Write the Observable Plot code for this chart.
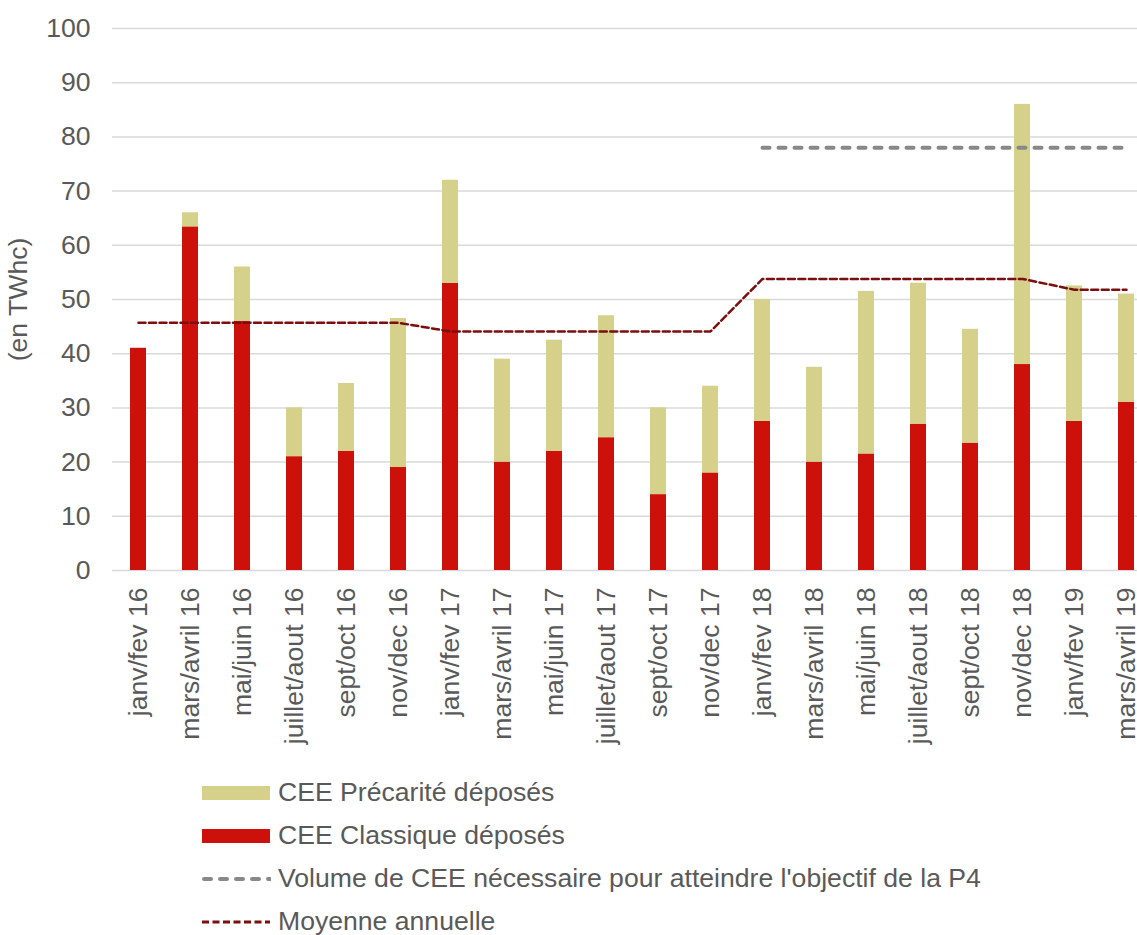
<!DOCTYPE html>
<html>
<head>
<meta charset="utf-8">
<script src="https://cdn.jsdelivr.net/npm/d3@7"></script>
<script src="https://cdn.jsdelivr.net/npm/@observablehq/plot@0.6"></script>
<style>
  html, body { margin: 0; padding: 0; background: #fff; }
  body { width: 1137px; height: 935px; overflow: hidden; font-family: "Liberation Sans", Arial, sans-serif; }
  #legend { margin-left: 201px; padding-top: 1px; color: #595959; font-size: 26.6px; }
  .row { display: flex; align-items: center; height: 43px; }
  .row svg { flex: none; margin-right: 7px; }
</style>
</head>
<body>
<div id="chart"></div>
<div id="legend"></div>
<script>
const categories = [
  "janv/fev 16", "mars/avril 16", "mai/juin 16", "juillet/aout 16", "sept/oct 16", "nov/dec 16",
  "janv/fev 17", "mars/avril 17", "mai/juin 17", "juillet/aout 17", "sept/oct 17", "nov/dec 17",
  "janv/fev 18", "mars/avril 18", "mai/juin 18", "juillet/aout 18", "sept/oct 18", "nov/dec 18",
  "janv/fev 19", "mars/avril 19"
];
const classique = [41, 63.4, 46, 21, 22, 19, 53, 20, 22, 24.5, 14, 18, 27.5, 20, 21.5, 27, 23.5, 38, 27.5, 31];
const precarite = [0, 2.6, 10, 9, 12.5, 27.5, 19, 19, 20.5, 22.5, 16, 16, 22.5, 17.5, 30, 26, 21, 48, 25, 20];
const moyenne = [45.7, 45.7, 45.7, 45.7, 45.7, 45.7, 44.1, 44.1, 44.1, 44.1, 44.1, 44.1,
                 53.8, 53.8, 53.8, 53.8, 53.8, 53.8, 51.8, 51.8];
const objectif = [null, null, null, null, null, null, null, null, null, null, null, null,
                  78, 78, 78, 78, 78, 78, 78, 78];
const yTicks = [0, 10, 20, 30, 40, 50, 60, 70, 80, 90, 100];

const seriesNames = ["CEE Classique déposés", "CEE Précarité déposés"];
const colors = ["#CC100A", "#D5D08A"];
const textColor = "#595959";
const fs = 26.6;

const rows = categories.flatMap((c, i) => [
  {cat: c, serie: seriesNames[0], value: classique[i]},
  {cat: c, serie: seriesNames[1], value: precarite[i]}
]);
const lineRows = categories.map((c, i) => ({cat: c, moyenne: moyenne[i], objectif: objectif[i]}));

const chart = Plot.plot({
  width: 1137,
  height: 770,
  marginLeft: 112,
  marginRight: -15,
  marginTop: 28,
  marginBottom: 200,
  style: {fontFamily: "'Liberation Sans', Arial, sans-serif", fontSize: fs + "px", color: textColor, background: "white", overflow: "hidden"},
  x: {domain: categories, paddingInner: 0.69, paddingOuter: 0.345, label: null},
  y: {domain: [0, 100], label: null},
  color: {domain: seriesNames, range: colors},
  marks: [
    Plot.ruleY(yTicks, {stroke: "#D9D9D9", strokeWidth: 1.5}),
    Plot.barY(rows, {x: "cat", y: "value", fill: "serie"}),
    Plot.line(lineRows, {x: "cat", y: "moyenne", stroke: "#7B0F0F", strokeWidth: 2.5, strokeDasharray: "7,3.5"}),
    Plot.line(lineRows, {x: "cat", y: "objectif", stroke: "#888888", strokeWidth: 4, strokeDasharray: "7,9", strokeLinecap: "round"}),
    Plot.axisY({ticks: yTicks, tickSize: 0, tickPadding: 22, fontSize: fs, fill: textColor, label: null}),
    Plot.axisX({tickSize: 0, tickRotate: -90, tickPadding: 17, fontSize: fs, fill: textColor, label: null}),
    Plot.text(["(en TWhc)"], {frameAnchor: "left", dx: -94, rotate: -90, fontSize: fs, fill: textColor, textAnchor: "middle"})
  ]
});
document.getElementById("chart").appendChild(chart);

// Legend
const legendItems = [
  {label: "CEE Précarité déposés", type: "rect", color: colors[1]},
  {label: "CEE Classique déposés", type: "rect", color: colors[0]},
  {label: "Volume de CEE nécessaire pour atteindre l'objectif de la P4", type: "line", color: "#888888", width: 4, dash: "7,9", cap: "round"},
  {label: "Moyenne annuelle", type: "line", color: "#7B0F0F", width: 3, dash: "7,3.5", cap: "butt"}
];
const legend = d3.select("#legend");
for (const it of legendItems) {
  const row = legend.append("div").attr("class", "row");
  const svg = row.append("svg").attr("width", 70).attr("height", 16);
  if (it.type === "rect") {
    svg.append("rect").attr("x", 1).attr("y", 1).attr("width", 68).attr("height", 14).attr("fill", it.color);
  } else {
    svg.append("line").attr("x1", it.cap === "round" ? 3 : 1).attr("x2", 69).attr("y1", 8).attr("y2", 8)
      .attr("stroke", it.color).attr("stroke-width", it.width).attr("stroke-dasharray", it.dash)
      .attr("stroke-linecap", it.cap);
  }
  row.append("span").text(it.label);
}
</script>
</body>
</html>
